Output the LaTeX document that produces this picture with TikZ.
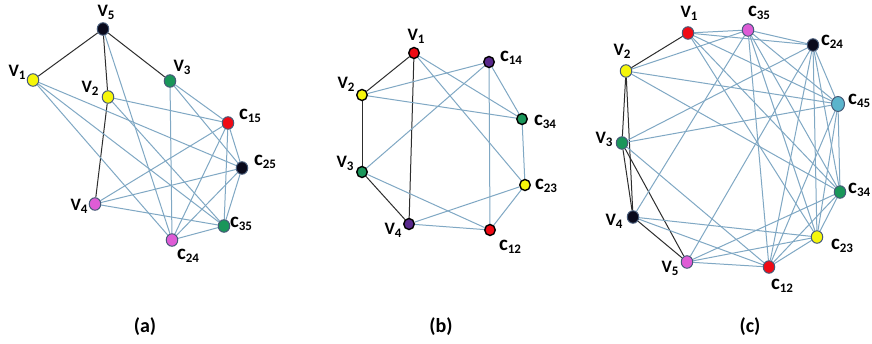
\documentclass[tikz,border=0pt]{standalone}
\usepackage{fontspec}
\setmainfont{Carlito}
\usetikzlibrary{shapes.geometric}
\pgfdeclarelayer{bg}
\pgfsetlayers{bg,main}
\definecolor{edgeblue}{RGB}{128,168,196}
\definecolor{edgeblack}{RGB}{45,45,45}
\definecolor{nblack}{RGB}{10,10,28}
\definecolor{nyellow}{RGB}{246,246,10}
\definecolor{ngreen}{RGB}{26,150,90}
\definecolor{nred}{RGB}{240,10,20}
\definecolor{nmagenta}{RGB}{222,92,214}
\definecolor{npurple}{RGB}{88,40,140}
\definecolor{nlblue}{RGB}{90,180,204}
\definecolor{bordera}{RGB}{70,90,120}
\newcommand{\lbV}[1]{{\fontsize{17.5}{17.5}\selectfont V}\raisebox{-3pt}{\fontsize{13}{13}\selectfont #1}}
\newcommand{\lbC}[1]{{\fontsize{21}{21}\selectfont c}\raisebox{-3pt}{\fontsize{13}{13}\selectfont #1}}
\begin{document}
\begin{tikzpicture}[x=1pt,y=-1pt,
  vtx/.style={ellipse,draw=bordera,line width=1pt,inner sep=0pt,minimum width=11.5pt,minimum height=12.5pt},
  vtxb/.style={ellipse,draw=black,line width=1.4pt,inner sep=0pt,minimum width=10.5pt,minimum height=11pt},
  lab/.style={inner sep=0pt,font=\bfseries},
  bl/.style={draw=edgeblue,line width=1pt},
  bk/.style={draw=edgeblack,line width=1pt},
  captext/.style={inner sep=0pt,font=\bfseries\fontsize{20}{20}\selectfont}]
\useasboundingbox (0,0) rectangle (872,344);
\begin{pgfonlayer}{bg}
\fill[white] (0,0) rectangle (872,344);
\end{pgfonlayer}
% ---------------- (a)
\node[vtx,fill=nblack]   (a5)  at (103,29)  {};
\node[vtx,fill=nyellow]  (a1)  at (33,80)   {};
\node[vtx,fill=nyellow]  (a2)  at (108,97)  {};
\node[vtx,fill=ngreen]   (a3)  at (170,81)  {};
\node[vtx,fill=nred]     (a15) at (228,123) {};
\node[vtx,fill=nblack]   (a25) at (242,168) {};
\node[vtx,fill=nmagenta] (a4)  at (95,204)  {};
\node[vtx,fill=ngreen]   (a35) at (224,226) {};
\node[vtx,fill=nmagenta] (a24) at (172,240) {};
\node[lab] (la5)  at (106,12)  {\lbV{5}};
\node[lab] (la1)  at (17,72)   {\lbV{1}};
\node[lab] (la2)  at (90,88)   {\lbV{2}};
\node[lab] (la3)  at (182,67)  {\lbV{3}};
\node[lab] (la15) at (250,116) {\lbC{15}};
\node[lab] (la25) at (265,162) {\lbC{25}};
\node[lab] (la4)  at (79,206)  {\lbV{4}};
\node[lab] (la35) at (241,224) {\lbC{35}};
\node[lab] (la24) at (188,256) {\lbC{24}};
\begin{pgfonlayer}{bg}
\foreach \u/\v in {a5/a1,a5/a2,a5/a3,a2/a4} \draw[bk] (\u) -- (\v);
\foreach \u/\v in {a15/a2,a15/a3,a15/a4,a25/a1,a25/a3,a25/a4,a35/a1,a35/a2,a35/a4,a24/a1,a24/a3,a24/a5,
  a15/a25,a15/a35,a15/a24,a25/a35,a25/a24,a35/a24} \draw[bl] (\u) -- (\v);
\end{pgfonlayer}
% ---------------- (b)
\node[vtxb,fill=nred]    (b1)  at (414,53)  {};
\node[vtxb,fill=nyellow] (b2)  at (362,95)  {};
\node[vtxb,fill=ngreen]  (b3)  at (362,172) {};
\node[vtxb,fill=npurple] (b4)  at (409,224) {};
\node[vtxb,fill=nred]    (b12) at (490,230) {};
\node[vtxb,fill=nyellow] (b23) at (525,185) {};
\node[vtxb,fill=ngreen]  (b34) at (522,119) {};
\node[vtxb,fill=npurple] (b14) at (489,62)  {};
\node[lab] (lb1)  at (416,36)  {\lbV{1}};
\node[lab] (lb2)  at (346,84)  {\lbV{2}};
\node[lab] (lb3)  at (345,163) {\lbV{3}};
\node[lab] (lb4)  at (393,230) {\lbV{4}};
\node[lab] (lb12) at (510,247) {\lbC{12}};
\node[lab] (lb23) at (546,186) {\lbC{23}};
\node[lab] (lb34) at (545,122) {\lbC{34}};
\node[lab] (lb14) at (511,58)  {\lbC{14}};
\begin{pgfonlayer}{bg}
\foreach \u/\v in {b1/b2,b2/b3,b3/b4,b1/b4} \draw[bk] (\u) -- (\v);
\foreach \u/\v in {b12/b3,b12/b4,b23/b1,b23/b4,b34/b1,b34/b2,b14/b2,b14/b3,
  b14/b34,b34/b23,b23/b12,b12/b14} \draw[bl] (\u) -- (\v);
\end{pgfonlayer}
% ---------------- (c)
\node[vtx,fill=nred]     (c1)  at (688,33)  {};
\node[vtx,fill=nmagenta] (c35) at (748,30)  {};
\node[vtx,fill=nblack]   (c24) at (813,45)  {};
\node[vtx,fill=nlblue,minimum width=13pt,minimum height=15pt] (c45) at (838,104) {};
\node[vtx,fill=ngreen]   (c34) at (840,192) {};
\node[vtx,fill=nyellow]  (c23) at (817,237) {};
\node[vtx,fill=nred]     (c12) at (769,267) {};
\node[vtx,fill=nmagenta] (c5)  at (687,262) {};
\node[vtx,fill=nblack]   (c4)  at (633,217) {};
\node[vtx,fill=ngreen]   (c3)  at (622,143) {};
\node[vtx,fill=nyellow]  (c2)  at (626,71)  {};
\node[lab] (lc1)  at (689,13)  {\lbV{1}};
\node[lab] (lc35) at (759,13)  {\lbC{35}};
\node[lab] (lc24) at (832,42)  {\lbC{24}};
\node[lab,anchor=west] (lc45) at (848,101) {\lbC{45}};
\node[lab,anchor=west] (lc34) at (848,190) {\lbC{34}};
\node[lab] (lc23) at (842,246) {\lbC{23}};
\node[lab] (lc12) at (782,286) {\lbC{12}};
\node[lab] (lc5)  at (670,268) {\lbV{5}};
\node[lab] (lc4)  at (614,221) {\lbV{4}};
\node[lab] (lc3)  at (604,139) {\lbV{3}};
\node[lab] (lc2)  at (622,51)  {\lbV{2}};
\begin{pgfonlayer}{bg}
\foreach \u/\v in {c1/c2,c2/c3,c2/c4,c3/c4,c3/c5,c4/c5} \draw[bk] (\u) -- (\v);
\foreach \u/\v in {c12/c3,c12/c4,c12/c5,c23/c1,c23/c4,c23/c5,c24/c1,c24/c3,c24/c5,
  c34/c1,c34/c2,c34/c5,c35/c1,c35/c2,c35/c4,c45/c1,c45/c2,c45/c3,
  c12/c23,c12/c24,c12/c34,c12/c35,c12/c45,c23/c24,c23/c34,c23/c35,c23/c45,
  c24/c34,c24/c35,c24/c45,c34/c35,c34/c45,c35/c45} \draw[bl] (\u) -- (\v);
\end{pgfonlayer}
% ---------------- captions
\node[captext] (capa) at (145,327) {(a)};
\node[captext] (capb) at (441,327) {(b)};
\node[captext] (capc) at (750,327) {(c)};
\end{tikzpicture}
\end{document}
